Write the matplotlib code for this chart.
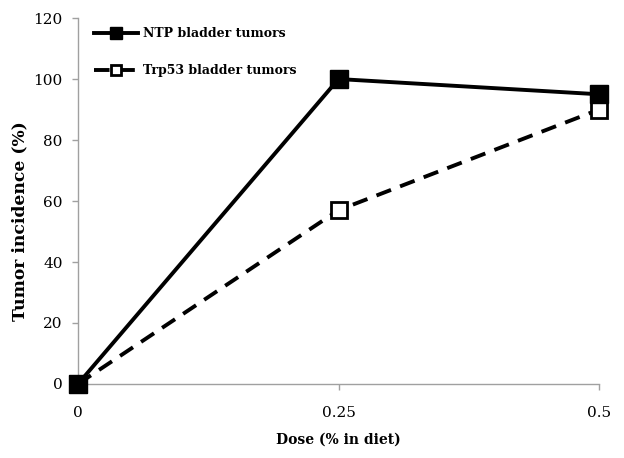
import matplotlib
matplotlib.use("Agg")
import matplotlib.pyplot as plt

# Data
dose = [0, 0.25, 0.5]
ntp_incidence = [0, 100, 95]
trp53_incidence = [0, 57, 90]
x_ticks = [0, 0.25, 0.5]
x_tick_labels = ["0", "0.25", "0.5"]
y_ticks = [0, 20, 40, 60, 80, 100, 120]

plt.rcParams["font.family"] = ["DejaVu Serif"]

fig = plt.figure(figsize=(6.24, 4.58), dpi=100)
ax = fig.add_axes([0.125, 0.1616, 0.835, 0.799])

ax.plot(dose, trp53_incidence, color="black", linestyle=(0, (4, 2.5)), linewidth=2.8,
        marker="s", markersize=12, markerfacecolor="white", markeredgecolor="black",
        markeredgewidth=2, label="Trp53 bladder tumors", zorder=3)
ax.plot(dose, ntp_incidence, color="black", linewidth=2.8,
        marker="s", markersize=13, markerfacecolor="black", markeredgecolor="black",
        label="NTP bladder tumors", zorder=4)

ax.set_xlim(0, 0.5)
ax.set_ylim(0, 120)
ax.set_xticks(x_ticks)
ax.set_xticklabels(x_tick_labels)
ax.set_yticks(y_ticks)
ax.tick_params(axis="both", labelsize=11, color="#a0a0a0", length=4, width=1)
ax.tick_params(axis="x", pad=12)
ax.tick_params(axis="y", pad=7)

for side in ["top", "right"]:
    ax.spines[side].set_visible(False)
for side in ["left", "bottom"]:
    ax.spines[side].set_color("#a0a0a0")
    ax.spines[side].set_linewidth(1)

ax.set_xlabel("Dose (% in diet)", fontsize=10, fontweight="bold")
ax.set_ylabel("Tumor incidence (%)", fontsize=12.3, fontweight="bold")
ax.xaxis.set_label_coords(0.5, -0.132)
ax.yaxis.set_label_coords(-0.095, 0.445)

handles, labels = ax.get_legend_handles_labels()
leg = ax.legend(handles[::-1], labels[::-1], loc="upper left", frameon=False,
                prop={"weight": "bold", "size": 9},
                markerscale=0.62, handlelength=3.5, handletextpad=0.4,
                labelspacing=1.9, bbox_to_anchor=(0.01, 1.005))

for line in ax.get_lines():
    line.set_clip_on(False)

fig.savefig("out.png", dpi=100)
